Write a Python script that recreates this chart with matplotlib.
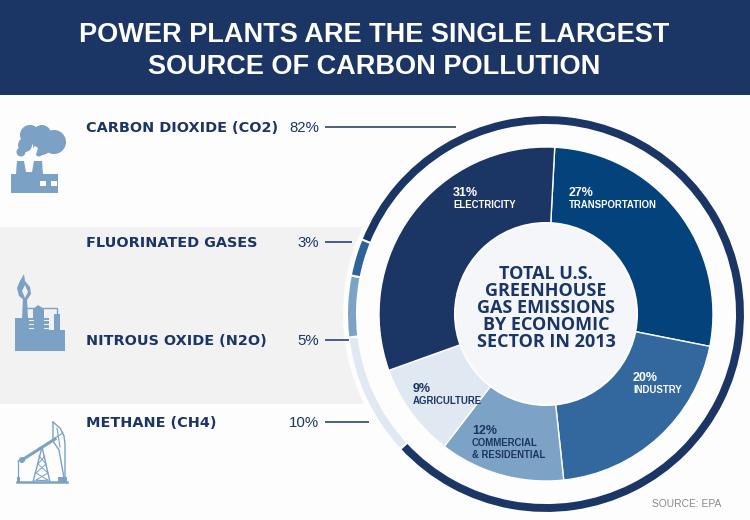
"""Power plants / carbon pollution infographic: nested donut with side labels."""

import matplotlib
matplotlib.use('Agg')
import matplotlib.pyplot as plt
from matplotlib.patches import Circle, Polygon, Rectangle

W, H = 750, 520
NAVY = '#1b3564'
STEEL = '#7ba1c5'

# Inner donut, clockwise from the top
sector_names = ['TRANSPORTATION', 'INDUSTRY', 'COMMERCIAL\n& RESIDENTIAL', 'AGRICULTURE', 'ELECTRICITY']
sector_values = [27, 20, 12, 9, 31]
sector_colors = ['#04427c', '#33689e', '#7ca3c5', '#e0e8f1', NAVY]

# Outer ring, clockwise from the top left
gas_names = ['CARBON DIOXIDE (CO2)', 'METHANE (CH4)', 'NITROUS OXIDE (N2O)', 'FLUORINATED GASES']
gas_values = [82, 10, 5, 3]
gas_colors = [NAVY, '#e0e8f1', '#7ca3c5', '#2d6399']

TITLE = 'POWER PLANTS ARE THE SINGLE LARGEST\nSOURCE OF CARBON POLLUTION'
CENTER = 'TOTAL U.S.\nGREENHOUSE\nGAS EMISSIONS\nBY ECONOMIC\nSECTOR IN 2013'

CX, CY = 546, 314
fig = plt.figure(figsize=(W / 100, H / 100), dpi=100, facecolor='#fdfdfd')

# page layer in pixel coordinates
bg = fig.add_axes([0, 0, 1, 1])
bg.set_xlim(0, W)
bg.set_ylim(H, 0)
bg.axis('off')
bg.add_patch(Rectangle((0, 0), W, 95, color=NAVY, lw=0))
bg.add_patch(Rectangle((0, 227), 380, 177, color='#f2f2f2', lw=0))
bg.add_patch(Circle((CX, CY), 203, color='#fdfdfd', lw=0))

# donuts
pie_ax = fig.add_axes([(CX - 201) / W, (H - CY - 201) / H, 402 / W, 402 / H])
pie_ax.pie(gas_values, colors=gas_colors, startangle=158, counterclock=False, radius=199,
           wedgeprops=dict(width=10, edgecolor='#fdfdfd', linewidth=1.5))
pie_ax.pie(sector_values, colors=sector_colors, startangle=87, counterclock=False, radius=167,
           wedgeprops=dict(width=77, edgecolor='#fdfdfd', linewidth=1))
pie_ax.add_patch(Circle((0, 0), 91, color='#f4f6f9', ec='#fdfdfd', lw=1.5, zorder=5))
pie_ax.set_xlim(-201, 201)
pie_ax.set_ylim(-201, 201)
pie_ax.axis('off')

# text layer on top of the donuts
top = fig.add_axes([0, 0, 1, 1], facecolor='none')
top.set_xlim(0, W)
top.set_ylim(H, 0)
top.axis('off')

top.text(374.5, 51, TITLE, color='white', fontsize=19.5, weight='bold', family='Liberation Sans',
         ha='center', va='center', linespacing=1.3)
top.text(546, 308, CENTER, color=NAVY, fontsize=13, weight='bold', family='Open Sans',
         ha='center', va='center', linespacing=0.94)

# side labels with leader lines
label_y = [127, 422, 340, 242]
line_end = [456, 369, 349, 352]
for name, val, y, x1 in zip(gas_names, gas_values, label_y, line_end):
    top.text(86, y + 1, name, color=NAVY, fontsize=10.4, weight='bold', family='DejaVu Sans',
             ha='left', va='center')
    top.text(319, y + 1, f'{val}%', color=NAVY, fontsize=10.8, family='Liberation Sans',
             ha='right', va='center')
    top.plot([325, x1], [y, y], color=NAVY, lw=1.1, solid_capstyle='butt')

# sector labels: x, y of percent, text colour
label_pos = [(569, 193, 'white'), (633, 378, 'white'), (472, 431, NAVY), (413, 389, NAVY), (453, 193, 'white')]
for name, val, (x, y, c) in zip(sector_names, sector_values, label_pos):
    top.text(x, y, f'{val}%', color=c, fontsize=9, weight='bold', family='Liberation Sans',
             ha='left', va='center')
    top.text(x, y + 7, name, color=c, fontsize=6.9, weight='bold', family='Liberation Sans',
             ha='left', va='top', linespacing=1.25)

top.text(721, 504, 'SOURCE: EPA', color='#8a8a8a', fontsize=7.4, family='Liberation Sans',
         ha='right', va='center')


def factory(a):
    a.add_patch(Polygon([(11, 193), (11, 174), (16, 174), (17, 161), (24, 161), (26, 172), (32, 172),
                         (34, 161), (42, 161), (43, 174), (58, 174), (58, 193)], color=STEEL, lw=0))
    for x in (40, 51):
        a.add_patch(Rectangle((x, 181), 6, 5, color='#fdfdfd', lw=0))
    for x, y, r in [(30, 135, 10), (42, 134, 9), (54, 142, 12), (42, 146, 9), (25, 145, 7), (21, 152, 4.5),
                    (39, 153, 3.5)]:
        a.add_patch(Circle((x, y), r, color=STEEL, lw=0))
    a.add_patch(Polygon([(26, 156), (35, 146), (38, 148), (35, 158), (28, 159)], color='#fdfdfd', lw=0))


def refinery(a):
    a.add_patch(Polygon([(15, 351), (15, 318), (22, 318), (23, 298), (27, 298), (28, 318), (33, 318),
                         (33, 309), (38, 305), (44, 309), (44, 318), (49, 318), (49, 330), (54, 330),
                         (54, 314), (60, 314), (60, 330), (65, 330), (65, 351)], color=STEEL, lw=0))
    a.add_patch(Polygon([(24, 300), (19, 296), (17, 288), (20, 281), (24, 274), (25, 281), (30, 287),
                         (31, 294), (27, 300)], color=STEEL, lw=0))
    a.add_patch(Polygon([(25, 298), (22, 291), (25, 285), (28, 292)], color='#f2f2f2', lw=0))
    a.plot([27, 57, 57], [308, 308, 314], color=STEEL, lw=1)
    for y in (320, 324, 328):
        a.plot([29, 33], [y, y], color='#f2f2f2', lw=0.8)
        a.plot([44, 49], [y, y], color='#f2f2f2', lw=0.8)


def pumpjack(a):
    c = STEEL
    a.plot([17, 67], [482, 482], color=c, lw=1.8)
    a.plot([22, 55], [460, 439], color=c, lw=2.2)
    a.add_patch(Circle((22, 460), 3, color=c, lw=0))
    a.add_patch(Rectangle((17, 477), 3, 5, color=c, lw=0))
    a.add_patch(Rectangle((58, 477), 9, 5, color=c, lw=0))
    a.plot([18, 18], [460, 478], color=c, lw=0.9)
    a.plot([33, 42, 50], [482, 447, 482], color=c, lw=1)
    a.plot([39, 46, 36, 48, 34], [456, 464, 473, 480, 481], color=c, lw=0.7)
    a.plot([45, 38, 48, 36, 49], [456, 464, 473, 480, 481], color=c, lw=0.7)
    a.plot([53, 60, 64, 65, 65], [422, 428, 436, 444, 478], color=c, lw=1)
    a.plot([53, 53, 59, 64], [422, 441, 450, 478], color=c, lw=1)
    a.plot([55, 63], [438, 433], color=c, lw=0.8)
    a.plot([57, 60], [428, 447], color=c, lw=0.8)


factory(top)
refinery(top)
pumpjack(top)

fig.savefig('out.png', dpi=100, facecolor=fig.get_facecolor())
